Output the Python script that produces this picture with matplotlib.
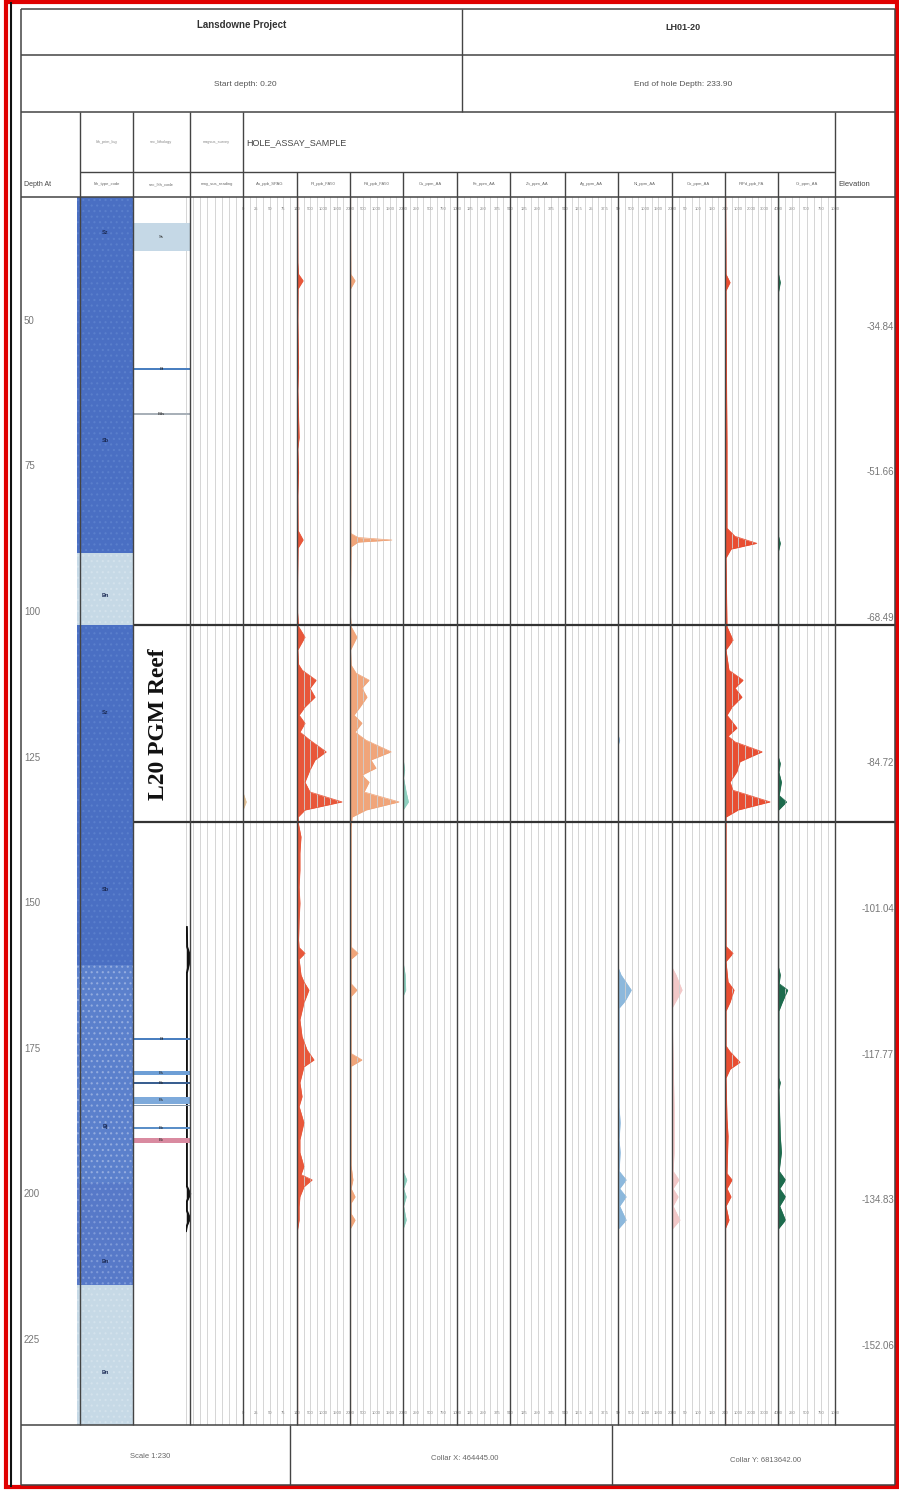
import numpy as np
import matplotlib.pyplot as plt
from matplotlib.patches import Rectangle

plt.rcParams['font.family'] = ['Liberation Sans', 'DejaVu Sans']
plt.rcParams['hatch.linewidth'] = 0.8

W, H = 899, 1490
TOP, BOT = 197, 1425          # data area in pixels
D0, D1 = 28.74, 239.6         # depth at top / bottom of data area

# ---- header / footer text
project = 'Lansdowne Project'
hole_id = 'LH01-20'
start_depth = 0.20
end_depth = 233.90
scale_txt = 'Scale 1:230'
collar_x = 464445.00
collar_y = 6813642.00

depth_ticks = [50, 75, 100, 125, 150, 175, 200, 225]
elev_ticks = [-34.84, -51.66, -68.49, -84.72, -101.04, -117.77, -134.83, -152.06]

group_hdr = ['lith_prim_log', 'sec_lithology', 'magsus_survey']
col_hdr = ['lith_type_code', 'sec_lith_code', 'mag_sus_reading', 'Au_ppb_SPAG', 'Pt_ppb_FA50',
           'Pd_ppb_FA50', 'Cu_ppm_AA', 'Fe_ppm_AA', 'Zn_ppm_AA', 'Ag_ppm_AA', 'Ni_ppm_AA',
           'Co_ppm_AA', 'PtPd_ppb_FA', 'Cr_ppm_AA']

# ---- lithology (primary)
lith_top = [28.74, 41.0, 89.9, 102.2, 132.0, 160.6, 198.0, 215.5]
lith_bot = [41.0, 89.9, 102.2, 132.0, 160.6, 198.0, 215.5, 239.6]
lith_code = ['Sz', 'Sb', 'Bn', 'Sz', 'Sb', 'Bj', 'Bn', 'Bn']
lith_label_depth = [34.8, 70.5, 97.1, 117.2, 147.7, 188.4, 211.6, 230.5]
lith_color = ['#4a6fc3', '#4a6fc3', '#c6d9e6', '#4a6fc3', '#4a6fc3', '#5b80cc', '#5779c8', '#c6d9e6']
lith_dots = ['#5a7fcc', '#5a7fcc', '#d3e2ec', '#5a7fcc', '#5a7fcc', '#93acdf', '#7f9bd9', '#d3e2ec']

# ---- secondary lithology
sec_top = [33.2, 58.1, 65.85, 173.15, 178.9, 180.75, 183.2, 184.65, 188.4, 190.3]
sec_bot = [38.0, 58.45, 66.1, 173.5, 179.5, 181.0, 184.4, 184.9, 188.7, 191.1]
sec_code = ['Ss', 'Bt', 'Bds', 'Bt', 'Bs', 'Bn', 'Bs', '', 'Bn', 'Bx']
sec_color = ['#c5d8e6', '#4a7fc0', '#a8b0b8', '#4a7fc0', '#6e9fd6', '#3a5f90',
             '#7eaadb', '#8899aa', '#5b8fc8', '#d98aa0']

# ---- reef interval
reef_top, reef_bot = 102.2, 136.06
reef_name = 'L20 PGM Reef'

# ---- magnetic susceptibility trace
sus_depth = [154.1, 157.5, 159.0, 160.5, 162.0, 198.6, 199.9, 201.2, 202.8, 204.1, 205.4, 206.3]
sus_val = [0.3, 0.4, 1.4, 1.0, 0.3, 0.3, 1.5, 0.3, 0.3, 1.4, 0.3, 0.0]

# ---- assays
au_depth = [28.7, 131.0, 132.6, 134.0, 239.6]
au_ppb = [0, 0, 6, 0, 0]

pt_depth = [28.7, 40, 42, 43.1, 44.5, 50, 58, 62, 70, 72, 76, 80, 86, 87.6, 89, 95, 100,
            102.5, 104.3, 106.5, 109, 110, 111.7, 113.1, 114.6, 116.3, 117.7, 119.1, 120.6,
            122.0, 124.0, 125.4, 127.1, 129.2, 130.9, 132.6, 134.0, 135.2, 136.5, 138.6,
            141.4, 144.3, 147.2, 150.0, 152.9, 156.3, 157.6, 158.6, 159.6, 162.3, 163.5, 164.9,
            167.1, 170.0, 172.9, 175.2, 176.9, 178.1, 180.8, 183.2, 184.9, 187.7, 190.6,
            192.8, 195.2, 196.6, 197.5, 198.7, 200.4, 202.1, 204.4, 206.6, 239.6]
pt_ppb = [20, 30, 60, 230, 40, 30, 60, 30, 80, 30, 60, 30, 40, 230, 40, 20, 20,
          60, 300, 30, 60, 200, 720, 490, 680, 300, 80, 300, 110,
          490, 1100, 680, 490, 300, 490, 1700, 300, 40, 60, 150,
          110, 110, 80, 110, 80, 60, 80, 300, 80, 150, 260, 450,
          260, 110, 190, 380, 640, 260, 110, 190, 80, 260, 110,
          110, 260, 150, 570, 260, 110, 80, 80, 0, 0]

pd_depth = [28.7, 42, 43.1, 44.5, 60, 86.5, 87.2, 87.64, 88.0, 88.8, 100, 102.5, 104.3,
            106.5, 109.1, 110.5, 111.7, 113.05, 114.6, 116.3, 117.7, 119.06, 120.6, 122.0,
            124.0, 125.4, 126.8, 128.0, 129.2, 130.9, 132.6, 134.0, 135.2, 137, 150, 157.5,
            158.6, 159.6, 163.8, 164.9, 166.0, 175.8, 176.9, 178.0, 195, 197.5, 199.0, 200.4,
            201.5, 203.3, 204.4, 206.0, 239.6]
pd_ppb = [10, 30, 190, 20, 20, 30, 300, 1580, 300, 40, 10, 40, 260,
          20, 40, 230, 720, 450, 640, 380, 150, 450, 190, 600,
          1550, 790, 980, 450, 720, 530, 1850, 600, 80, 40, 40, 40,
          300, 40, 40, 260, 40, 40, 450, 40, 40, 110, 40, 190,
          40, 40, 190, 0, 0]

cu_depth = [28.7, 125, 127.1, 128.5, 131.0, 132.6, 134.0, 160, 162.3, 164.9, 166, 196,
            197.5, 199, 200.4, 202, 204.4, 206, 239.6]
cu_ppm = [0, 0, 30, 10, 60, 100, 0, 0, 40, 50, 0, 0, 70, 10, 60, 10, 60, 0, 0]

ni_depth = [28.7, 121, 122, 123, 161, 162.3, 164.9, 166.8, 168, 185, 187.7, 190.6, 192.8,
            196, 197.5, 199, 200.4, 202, 204.4, 206, 239.6]
ni_ppm = [0, 0, 60, 0, 0, 110, 490, 260, 40, 40, 80, 40, 80, 40, 300, 60, 300, 60, 300, 0, 0]

co_depth = [28.7, 161, 162.3, 164.9, 166.8, 168, 185, 192.8, 196, 197.5, 199, 200.4, 202,
            204.4, 206, 239.6]
co_ppm = [0, 0, 15, 38, 15, 0, 8, 8, 4, 26, 4, 23, 4, 30, 0, 0]

ptpd_depth = [28.7, 42, 43.4, 44.8, 59.3, 71, 85.6, 87, 88.2, 89.2, 90.7, 102.5, 104.8,
              106.5, 110, 111.7, 113.05, 114.6, 116.3, 117.7, 119.9, 121.3, 122.3, 124.0,
              125.7, 127.4, 129.2, 130.6, 132.6, 134.0, 135.2, 150, 157.4, 158.6, 160, 163.5,
              164.9, 167, 168.5, 174.5, 175.5, 177.3, 178.5, 180, 187, 190, 196.4, 197.5, 199,
              200.4, 202, 204.4, 206, 239.6]
ptpd_ppb = [40, 75, 380, 75, 110, 150, 150, 750, 2400, 450, 75, 150, 600,
            75, 300, 1360, 750, 1280, 530, 150, 900, 230, 750, 2800,
            1130, 900, 380, 600, 3400, 980, 75, 75, 75, 600, 75, 230,
            680, 380, 75, 75, 380, 1130, 380, 75, 150, 230, 150, 530, 150,
            450, 75, 300, 0, 0]

cr_depth = [28.7, 42, 43.4, 45, 87, 88.2, 89.5, 125, 126, 127.5, 129.2, 131.5, 132.6,
            134, 161, 162.3, 163.8, 164.9, 167, 168.5, 180, 180.8, 182, 190, 192.8, 196,
            197.5, 199, 200.4, 202, 204.4, 206, 239.6]
cr_ppm = [10, 10, 40, 10, 10, 40, 10, 10, 40, 15, 60, 20, 150,
          10, 10, 40, 20, 170, 75, 15, 15, 40, 15, 40, 60, 20,
          130, 30, 130, 30, 130, 0, 0]

# column edges (pixels) and assay columns
col_x = [243, 297, 350, 403, 457, 510, 565, 618, 672, 725, 778, 835]
scale_max = [100, 2000, 2000, 1000, 500, 500, 50, 2000, 200, 4000, 1000]
assays = [(au_depth, au_ppb, '#e3c39a', False),
          (pt_depth, pt_ppb, '#e8573a', True),
          (pd_depth, pd_ppb, '#f0a57a', True),
          (cu_depth, cu_ppm, '#8fd0c0', False),
          None, None, None,
          (ni_depth, ni_ppm, '#8cb8dc', False),
          (co_depth, co_ppm, '#f2c8c8', False),
          (ptpd_depth, ptpd_ppb, '#e84e32', True),
          (cr_depth, cr_ppm, '#1d6b4d', True)]

fig = plt.figure(figsize=(W / 100, H / 100), dpi=100)
fig.patch.set_facecolor('white')


def col_ax(x0, x1, z=1):
    ax = fig.add_axes([x0 / W, 1 - BOT / H, (x1 - x0) / W, (BOT - TOP) / H], zorder=z)
    ax.set_ylim(D1, D0)
    ax.patch.set_alpha(0)
    for s in ax.spines.values():
        s.set_visible(False)
    ax.set_yticks([])
    return ax


def scale_grid(ax, mx):
    ax.set_xlim(0, mx)
    ax.set_xticks(np.linspace(0, mx, 5))
    ax.set_xticklabels([f'{v:g}' for v in np.linspace(0, mx, 5)])
    ax.set_xticks(np.linspace(0, mx, 9), minor=True)
    ax.grid(True, which='both', axis='x', color='#cfcfcf', lw=0.6)
    ax.tick_params(axis='x', which='both', length=0, top=True, bottom=True,
                   labeltop=True, labelbottom=True, pad=-10, labelsize=3, labelcolor='#888')


# assay columns
for i, a in enumerate(assays):
    ax = col_ax(col_x[i], col_x[i + 1])
    scale_grid(ax, scale_max[i])
    if a is None:
        continue
    d, v, c, base = a
    ax.fill_betweenx(d, 0, v, color=c, lw=0)
    ax.plot(v, d, color=c, lw=0.5)
    if base:
        ax.axvline(0, color=c, lw=1.6)

# mag sus column
sax = col_ax(186, 243)
scale_grid(sax, 20)
sax.set_xticks(np.linspace(0, 20, 5), ['', '', '', '', ''])
sax.fill_betweenx(sus_depth, 0, sus_val, color='#111', lw=0)
sax.plot(sus_val, sus_depth, color='#111', lw=1.4)

# depth axes in pixel x
dax = col_ax(0, W, z=2)
dax.set_xlim(0, W)
dax.set_xticks([])
for t, b, code, ld, c, dc in zip(lith_top, lith_bot, lith_code, lith_label_depth, lith_color, lith_dots):
    dax.bar(105, b - t, bottom=t, width=56, color=c, edgecolor=dc, hatch='...', lw=0)
    dax.text(105, ld, code, ha='center', va='center', fontsize=4, color='#1b2a55', fontweight='bold')
for t, b, code, c in zip(sec_top, sec_bot, sec_code, sec_color):
    dax.bar(161.5, b - t, bottom=t, width=57, color=c, lw=0)
    dax.text(161.5, (t + b) / 2, code, ha='center', va='center', fontsize=3, color='#222')
dax.hlines([reef_top, reef_bot], 133, 895, color='#333', lw=1.6)
dax.text(158, 119.3, reef_name, rotation=90, ha='center', va='center', fontsize=17,
         fontweight='bold', family=['Liberation Serif', 'DejaVu Serif'], color='#111')
for d in depth_ticks:
    dax.text(24, d, str(d), ha='left', va='center', fontsize=7, color='#777')
for d, e in zip(depth_ticks, elev_ticks):
    dax.text(894, d + 1.0, f'{e:.2f}', ha='right', va='center', fontsize=7, color='#777')

# table overlay in pixel coords
tab = fig.add_axes([0, 0, 1, 1], zorder=3)
tab.set_xlim(0, W)
tab.set_ylim(H, 0)
tab.axis('off')
tab.patch.set_alpha(0)
lc = '#444'
tab.hlines([9, 55, 112, 197, 1425, 1485], 21, 895, color=lc, lw=1.1)
tab.hlines(172, 80, 835, color=lc, lw=1.0)
tab.vlines([21, 895], 9, 1485, color=lc, lw=1.1)
tab.vlines(462, 9, 112, color=lc, lw=1.0)
tab.vlines([80, 133, 190, 243, 835], 112, 1425, color=lc, lw=1.0)
tab.vlines(col_x[1:-1], 172, 1425, color=lc, lw=1.0)
tab.vlines([290, 612], 1425, 1485, color=lc, lw=1.0)
tab.vlines(11, 2, 1487, color='#111', lw=1.5)
tab.add_patch(Rectangle((6, 2), 891, 1485, fill=False, edgecolor='#e00000', lw=3))

tab.text(242, 25, project, ha='center', va='center', fontsize=7, fontweight='bold', color='#333')
tab.text(683, 27, hole_id, ha='center', va='center', fontsize=6.5, fontweight='bold', color='#333')
tab.text(245, 84, f'Start depth: {start_depth:.2f}', ha='center', va='center', fontsize=6, color='#555')
tab.text(683, 85, f'End of hole Depth: {end_depth:.2f}', ha='center', va='center', fontsize=6, color='#555')
tab.text(246, 143, 'HOLE_ASSAY_SAMPLE', ha='left', va='center', fontsize=6.5, color='#444')
for x0, x1, s in zip([80, 133, 190], [133, 190, 243], group_hdr):
    tab.text((x0 + x1) / 2, 142, s, ha='center', va='center', fontsize=2.8, color='#888')
tab.text(24, 184, 'Depth At', ha='left', va='center', fontsize=5, color='#444')
tab.text(838, 185, 'Elevation', ha='left', va='center', fontsize=5.5, color='#444')
hdr_x = [80, 133, 190] + col_x
for x0, x1, s in zip(hdr_x[:-1], hdr_x[1:], col_hdr):
    tab.text((x0 + x1) / 2, 184, s, ha='center', va='center', fontsize=3, color='#666')
tab.text(150, 1457, scale_txt, ha='center', va='center', fontsize=5.5, color='#666')
tab.text(465, 1459, f'Collar X: {collar_x:.2f}', ha='center', va='center', fontsize=5.5, color='#666')
tab.text(765, 1460, f'Collar Y: {collar_y:.2f}', ha='center', va='center', fontsize=5.5, color='#666')

fig.savefig('out.png', dpi=100)
